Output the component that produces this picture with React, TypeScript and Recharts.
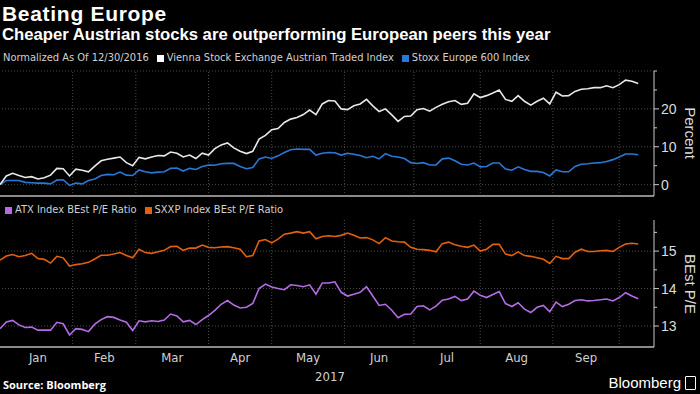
import React from 'react';
import { LineChart, Line, XAxis, YAxis, ReferenceLine } from 'recharts';

// sampled every 2nd trading day from 12/30/2016
const vienna = [
  0, 2.3, 3.0, 2.4, 1.9, 2.1, 1.5, 1.8, 2.5, 4.3,
  4.2, 2.3, 4.1, 3.8, 3.4, 4.9, 6.3, 6.7, 7.0, 7.3,
  5.8, 5.0, 7.2, 6.8, 7.3, 7.7, 7.6, 8.6, 8.3, 7.3,
  7.8, 6.9, 8.3, 7.8, 9.5, 10.5, 11.0, 9.7, 8.8, 8.2,
  8.8, 12.0, 13.0, 14.5, 14.8, 16.4, 17.3, 17.7, 18.5, 19.7,
  18.5, 21.3, 22.2, 22.1, 20.0, 19.8, 20.8, 21.3, 22.5, 20.8,
  19.3, 20.0, 18.4, 16.7, 18.0, 18.1, 19.8, 20.1, 19.4, 20.4,
  21.2, 21.9, 22.2, 21.2, 21.5, 24.0, 23.0, 23.5, 24.2, 25.0,
  22.5, 22.0, 23.5, 22.0, 21.0, 22.0, 22.8, 21.3, 24.4, 23.4,
  23.5, 24.6, 25.2, 25.3, 25.6, 25.6, 26.1, 25.6, 26.4, 27.6,
  27.3, 26.7,
];
const stoxx = [
  0, 1.1, 1.1, 1.1, 0.6, 0.5, 0.4, 0.4, 0.2, 1.2,
  1.3, -0.2, 0.4, 0.2, 1.1, 1.5, 2.4, 2.7, 2.6, 3.3,
  2.5, 2.4, 3.9, 3.4, 3.1, 3.3, 3.4, 4.3, 4.4, 3.6,
  4.3, 4.0, 4.8, 5.2, 5.1, 5.5, 5.6, 5.6, 4.8, 4.2,
  4.5, 6.8, 7.3, 6.9, 7.6, 8.5, 9.2, 9.4, 9.3, 9.3,
  7.8, 8.3, 8.5, 8.4, 7.8, 8.3, 8.0, 7.7, 7.1, 7.5,
  6.8, 8.2, 7.5, 7.3, 6.9, 5.8, 5.6, 5.8, 5.2, 5.2,
  6.8, 7.0, 6.3, 5.4, 5.2, 5.7, 4.7, 4.8, 5.7, 5.7,
  4.1, 3.8, 4.7, 4.0, 3.5, 3.5, 3.2, 2.3, 3.9, 3.4,
  3.4, 4.8, 5.4, 5.5, 5.7, 5.8, 6.1, 6.6, 7.3, 8.1,
  8.1, 7.9,
];
const atxPe = [
  12.93, 13.11, 13.15, 13.03, 12.96, 12.97, 12.89, 12.89, 12.89, 13.1,
  13.06, 12.76, 12.93, 12.91, 12.85, 13.05, 13.17, 13.25, 13.23, 13.16,
  13.1, 12.88, 13.14, 13.11, 13.14, 13.12, 13.16, 13.32, 13.27, 13.11,
  13.15, 13.04, 13.17, 13.28, 13.42, 13.58, 13.68, 13.56, 13.48, 13.5,
  13.6, 14.0, 14.12, 14.04, 14.0, 13.97, 14.1, 14.08, 14.05, 14.1,
  13.85, 14.15, 14.15, 14.18, 13.9, 13.8, 13.85, 13.9, 14.05, 13.8,
  13.55, 13.58, 13.42, 13.22, 13.31, 13.32, 13.52, 13.54, 13.43, 13.53,
  13.69, 13.72, 13.79, 13.68, 13.72, 13.93, 13.82, 13.76, 13.84, 13.92,
  13.6, 13.52, 13.62, 13.45, 13.36, 13.5, 13.55, 13.38, 13.64, 13.52,
  13.58, 13.68, 13.7, 13.67, 13.68, 13.7, 13.72, 13.67, 13.76, 13.89,
  13.8, 13.73,
];
const sxxpPe = [
  14.76, 14.87, 14.91, 14.85, 14.88, 14.94, 14.8, 14.78, 14.68, 14.86,
  14.82, 14.6, 14.64, 14.66, 14.7, 14.79, 14.89, 14.89, 14.92, 14.96,
  14.88, 14.82, 15.05, 14.96, 14.94, 14.98, 15.02, 15.12, 15.13, 15.02,
  15.08, 15.08, 15.16, 15.1, 15.09, 15.11, 15.12, 15.09, 15.05, 14.85,
  14.88, 15.27, 15.31, 15.22, 15.32, 15.45, 15.48, 15.52, 15.48, 15.52,
  15.33, 15.39, 15.41, 15.39, 15.42, 15.48, 15.42, 15.35, 15.36, 15.3,
  15.2, 15.36, 15.27, 15.25, 15.24, 15.1, 15.05, 15.04, 15.02, 14.98,
  15.2, 15.24, 15.17, 15.13, 15.1, 15.16, 15.0, 15.05, 15.18, 15.18,
  14.92, 14.88, 14.98, 14.88, 14.86, 14.82, 14.78, 14.67, 14.86, 14.8,
  14.8, 14.97, 15.05, 14.99, 14.99, 15.01, 15.02, 14.99, 15.1, 15.19,
  15.21, 15.19,
];

const months = ['Jan', 'Feb', 'Mar', 'Apr', 'May', 'Jun', 'Jul', 'Aug', 'Sep'];
// trading-day index of each month's first session (Oct last)
const monthStart = [1, 23, 43, 66, 86, 109, 131, 152, 175, 196];
const pctTicks = [0, 5, 10, 15, 20, 25, 30];
const pctLabels = [0, 10, 20];
const peTicks = [13, 13.5, 14, 14.5, 15, 15.5];
const peLabels = [13, 14, 15];

const day = vienna.map((_, i) => i * 2);
const topData = day.map((d, i) => ({ d, vienna: vienna[i], stoxx: stoxx[i] }));
const bottomData = day.map((d, i) => ({ d, atx: atxPe[i], sxxp: sxxpPe[i] }));
const monthMid = months.map((_, i) => (monthStart[i] + monthStart[i + 1]) / 2);
const gridX = monthStart.slice(1);

const NARROW = "'Liberation Sans Narrow', 'DejaVu Sans Condensed', Roboto, sans-serif";
const SANS = "'Liberation Sans', Arial, sans-serif";
const BOLD = "'Open Sans', sans-serif";
const GRID = '#4a4a4a';

const C = {
  vienna: '#e8e8e8',
  stoxx: '#2a78d6',
  atx: '#b46be3',
  sxxp: '#e5600e',
};

const rightTick = (labels: number[]) => (p: any) => {
  const v = p.payload.value;
  const major = labels.includes(v);
  return (
    <g>
      <line x1={p.x} x2={p.x + (major ? 5 : 3)} y1={p.y} y2={p.y} stroke="#c8c8c8" />
      {major && (
        <text x={p.x + 7} y={p.y} dy={5} fill="#dcdcdc" fontSize={14} fontFamily={SANS}>
          {v}
        </text>
      )}
    </g>
  );
};

const monthTick = (p: any) => {
  const i = monthMid.indexOf(p.payload.value);
  return (
    <text x={p.x} y={p.y} dy={15} textAnchor="middle" fill="#d0d0d0" fontSize={13} fontFamily={NARROW}>
      {months[i]}
    </text>
  );
};

const Swatch = ({ color }: { color: string }) => (
  <span style={{ display: 'inline-block', width: 7, height: 7, background: color, marginRight: 3 }} />
);

const legendRow = (left: number, top: number): React.CSSProperties => ({
  position: 'absolute', left, top, fontSize: 11, fontFamily: NARROW, color: '#d0d0d0',
  whiteSpace: 'nowrap', display: 'flex', alignItems: 'center', gap: 8, lineHeight: '14px',
});

const Item = ({ color, text }: { color?: string; text: string }) => (
  <span style={{ display: 'flex', alignItems: 'center' }}>
    {color && <Swatch color={color} />}
    {text}
  </span>
);

const sideLabel = (top: number): React.CSSProperties => ({
  position: 'absolute', left: 690, top, transform: 'translate(-50%, -50%) rotate(90deg)',
  color: '#dcdcdc', fontFamily: SANS, fontSize: 15, whiteSpace: 'nowrap',
});

export default function App() {
  return (
    <div style={{ position: 'fixed', left: 0, top: 0, width: 700, height: 394, background: '#000', overflow: 'hidden' }}>
      <div style={{ position: 'absolute', left: 2, top: 3.2, color: '#fff', fontFamily: SANS, fontWeight: 700, fontSize: 21, lineHeight: 1, letterSpacing: 0.7, whiteSpace: 'nowrap' }}>
        Beating Europe
      </div>
      <div style={{ position: 'absolute', left: 2, top: 26.9, color: '#fff', fontFamily: SANS, fontWeight: 700, fontSize: 16.7, lineHeight: 1, whiteSpace: 'nowrap' }}>
        Cheaper Austrian stocks are outperforming European peers this year
      </div>

      <div style={legendRow(3, 51)}>
        <Item text="Normalized As Of 12/30/2016" />
        <Item color="#ffffff" text="Vienna Stock Exchange Austrian Traded Index" />
        <Item color={C.stoxx} text="Stoxx Europe 600 Index" />
      </div>

      <div style={{ position: 'absolute', left: 0, top: 60 }}>
        <LineChart width={700} height={138} data={topData} margin={{ top: 11, right: 0, bottom: 0, left: 0 }}>
          <XAxis type="number" dataKey="d" domain={[0, 207]} tick={false} tickLine={false} height={2}
            axisLine={{ stroke: '#8a8a8a', strokeWidth: 2 }} />
          <YAxis orientation="right" width={46} domain={[-3, 30]} ticks={pctTicks} interval={0}
            tickSize={0} tickMargin={0} tickLine={false} axisLine={{ stroke: '#c8c8c8' }} tick={rightTick(pctLabels)} />
          {pctLabels.concat([30]).map((v) => (
            <ReferenceLine key={'h' + v} y={v} stroke={GRID} strokeDasharray="1 2" />
          ))}
          {gridX.map((v) => (
            <ReferenceLine key={'v' + v} x={v} stroke={GRID} strokeDasharray="1 2" />
          ))}
          <Line type="linear" dataKey="stoxx" stroke={C.stoxx} strokeWidth={1.6} dot={false} isAnimationActive={false} />
          <Line type="linear" dataKey="vienna" stroke={C.vienna} strokeWidth={1.6} dot={false} isAnimationActive={false} />
        </LineChart>
      </div>
      <div style={sideLabel(133)}>Percent</div>

      <div style={legendRow(5, 203)}>
        <Item color={C.atx} text="ATX Index BEst P/E Ratio" />
        <Item color={C.sxxp} text="SXXP Index BEst P/E Ratio" />
      </div>

      <div style={{ position: 'absolute', left: 0, top: 215 }}>
        <LineChart width={700} height={175} data={bottomData} margin={{ top: 5, right: 0, bottom: 0, left: 0 }}>
          <XAxis type="number" dataKey="d" domain={[0, 207]} ticks={monthMid} interval={0} tickLine={false}
            tickSize={0} tickMargin={0} height={43} axisLine={{ stroke: '#8a8a8a', strokeWidth: 2 }} tick={monthTick} />
          <YAxis orientation="right" width={46} domain={[12.44, 15.83]} ticks={peTicks} interval={0}
            tickSize={0} tickMargin={0} tickLine={false} axisLine={{ stroke: '#c8c8c8' }} tick={rightTick(peLabels)} />
          {peLabels.map((v) => (
            <ReferenceLine key={'h' + v} y={v} stroke={GRID} strokeDasharray="1 2" />
          ))}
          {gridX.map((v) => (
            <ReferenceLine key={'v' + v} x={v} stroke={GRID} strokeDasharray="1 2" />
          ))}
          <Line type="linear" dataKey="sxxp" stroke={C.sxxp} strokeWidth={1.6} dot={false} isAnimationActive={false} />
          <Line type="linear" dataKey="atx" stroke={C.atx} strokeWidth={1.6} dot={false} isAnimationActive={false} />
        </LineChart>
      </div>
      <div style={sideLabel(284)}>BEst P/E</div>

      <div style={{ position: 'absolute', left: 330, top: 369, transform: 'translateX(-50%)', color: '#d0d0d0', fontFamily: NARROW, fontSize: 13 }}>
        2017
      </div>
      <div style={{ position: 'absolute', left: 3, top: 377, color: '#fff', fontFamily: BOLD, fontWeight: 700, fontSize: 11 }}>
        Source: Bloomberg
      </div>
      <div style={{ position: 'absolute', right: 4, top: 374, color: '#fff', fontFamily: SANS, fontSize: 15, display: 'flex', alignItems: 'center' }}>
        Bloomberg
        <span style={{ display: 'inline-block', width: 9, height: 12, border: '1.5px solid #fff', borderRadius: 1, marginLeft: 4 }} />
      </div>
    </div>
  );
}
